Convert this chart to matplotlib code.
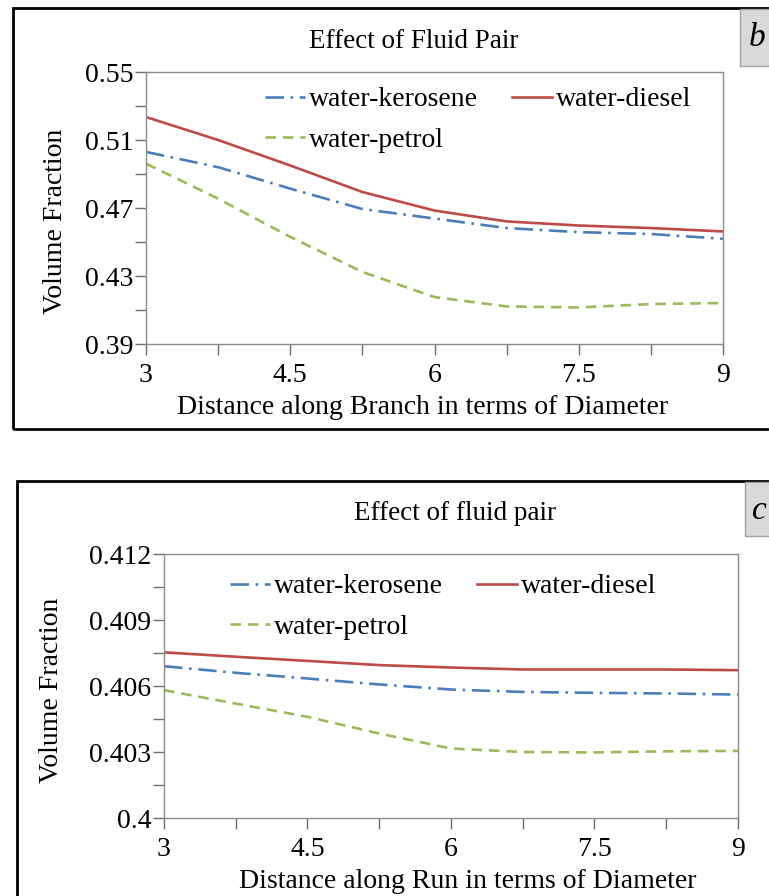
import matplotlib
matplotlib.use('Agg')
import matplotlib.pyplot as plt
import numpy as np
from matplotlib.patches import Rectangle
from matplotlib.ticker import FuncFormatter

plt.rcParams['font.family'] = ['Liberation Serif', 'DejaVu Serif']

# distance in diameters (same stations for both panels)
dist = [3, 3.75, 4.5, 5.25, 6, 6.75, 7.5, 8.25, 9]

# (b) along branch
branch_kerosene = [0.503, 0.494, 0.4814, 0.4694, 0.4638, 0.4582, 0.4558, 0.4547, 0.4519]
branch_diesel = [0.5235, 0.510, 0.4950, 0.4794, 0.4685, 0.4621, 0.4597, 0.4582, 0.4562]
branch_petrol = [0.4961, 0.4755, 0.4530, 0.4324, 0.4176, 0.4121, 0.4115, 0.4135, 0.4141]

# (c) along run
run_kerosene = [0.40690, 0.40660, 0.40634, 0.40607, 0.40584, 0.40573, 0.40569, 0.40566, 0.40561]
run_diesel = [0.40753, 0.40733, 0.40714, 0.40695, 0.40684, 0.40675, 0.40675, 0.40675, 0.40672]
run_petrol = [0.40581, 0.40520, 0.40460, 0.40384, 0.40316, 0.40300, 0.40298, 0.40303, 0.40305]

labels = ['water-kerosene', 'water-petrol', 'water-diesel']
c_blue, c_red, c_green = '#4A7EBB', '#BE4B48', '#9BBB59'

W, H = 769, 896
FS = 20
fig = plt.figure(figsize=(W / 100, H / 100), dpi=100)


def fx(px):
    return px / W


def fy(py):
    return 1 - py / H


def panel(ax, ker, die, pet, ylim, ystep, fmt, leg_anchor):
    l1, = ax.plot(dist, ker, color=c_blue, lw=1.9, dashes=(7, 2.5, 1, 2.5))
    l3, = ax.plot(dist, die, color=c_red, lw=1.9)
    l2, = ax.plot(dist, pet, color=c_green, lw=1.9, dashes=(4, 2.6))
    ax.set_xlim(3, 9)
    ax.set_ylim(*ylim)
    ax.set_xticks(np.arange(3, 9.01, 1.5))
    ax.set_xticks(np.arange(3, 9.01, 0.75), minor=True)
    ax.set_yticks(np.arange(ylim[0], ylim[1] + ystep / 10, ystep))
    ax.set_yticks(np.arange(ylim[0], ylim[1] + ystep / 10, ystep / 2), minor=True)
    ax.yaxis.set_major_formatter(FuncFormatter(fmt))
    ax.xaxis.set_major_formatter(FuncFormatter(lambda v, p: f'{v:g}'))
    for s in ax.spines.values():
        s.set_color('#8C8C8C')
        s.set_linewidth(1.0)
    ax.tick_params(which='both', direction='out', length=8, width=1.0,
                   color='#6E6E6E', labelsize=FS)
    ax.tick_params(axis='x', pad=6)
    ax.tick_params(axis='y', pad=1)
    ax.legend([l1, l2, l3], labels, ncol=2, frameon=False, loc='upper left',
              bbox_to_anchor=leg_anchor, borderaxespad=0, borderpad=0,
              handlelength=1.45, handletextpad=0.15, columnspacing=1.2,
              labelspacing=0.55, fontsize=FS)


# outer boxes and panel letters
fig.patches.append(Rectangle((fx(13), fy(429)), fx(800), 421 / H, transform=fig.transFigure,
                             fill=False, ec='black', lw=2, clip_on=False))
fig.patches.append(Rectangle((fx(17), fy(920)), fx(800), 439 / H, transform=fig.transFigure,
                             fill=False, ec='black', lw=2, clip_on=False))
fig.patches.append(Rectangle((fx(740), fy(66)), fx(60), 57 / H, transform=fig.transFigure,
                             fc='#D9D9D9', ec='#A0A0A0', lw=1))
fig.patches.append(Rectangle((fx(745), fy(536)), fx(60), 54 / H, transform=fig.transFigure,
                             fc='#D9D9D9', ec='#A0A0A0', lw=1))
fig.text(fx(749), fy(38), 'b', fontsize=24, style='italic', ha='left', va='center')
fig.text(fx(752), fy(511), 'c', fontsize=24, style='italic', ha='left', va='center')

ax1 = fig.add_axes([fx(146), fy(344), 577 / W, 272 / H])
panel(ax1, branch_kerosene, branch_diesel, branch_petrol, (0.39, 0.55), 0.04,
      lambda v, p: f'{v:.2f}', (0.206, 0.945))
fig.text(fx(414), fy(42), 'Effect of Fluid Pair', fontsize=19.5, ha='center', va='center')
fig.text(fx(423), fy(407), 'Distance along Branch in terms of Diameter', fontsize=FS,
         ha='center', va='center')
fig.text(fx(55), fy(221), 'Volume Fraction', fontsize=FS, rotation=90,
         ha='center', va='center')

ax2 = fig.add_axes([fx(164), fy(818), 574 / W, 264 / H])
panel(ax2, run_kerosene, run_diesel, run_petrol, (0.4, 0.412), 0.003,
      lambda v, p: f'{v:.3f}'.rstrip('0'), (0.115, 0.925))
fig.text(fx(455), fy(513), 'Effect of fluid pair', fontsize=19.5, ha='center', va='center')
fig.text(fx(468), fy(881), 'Distance along Run in terms of Diameter', fontsize=FS,
         ha='center', va='center')
fig.text(fx(52), fy(690), 'Volume Fraction', fontsize=FS, rotation=90,
         ha='center', va='center')

fig.savefig('out.png', dpi=100)
